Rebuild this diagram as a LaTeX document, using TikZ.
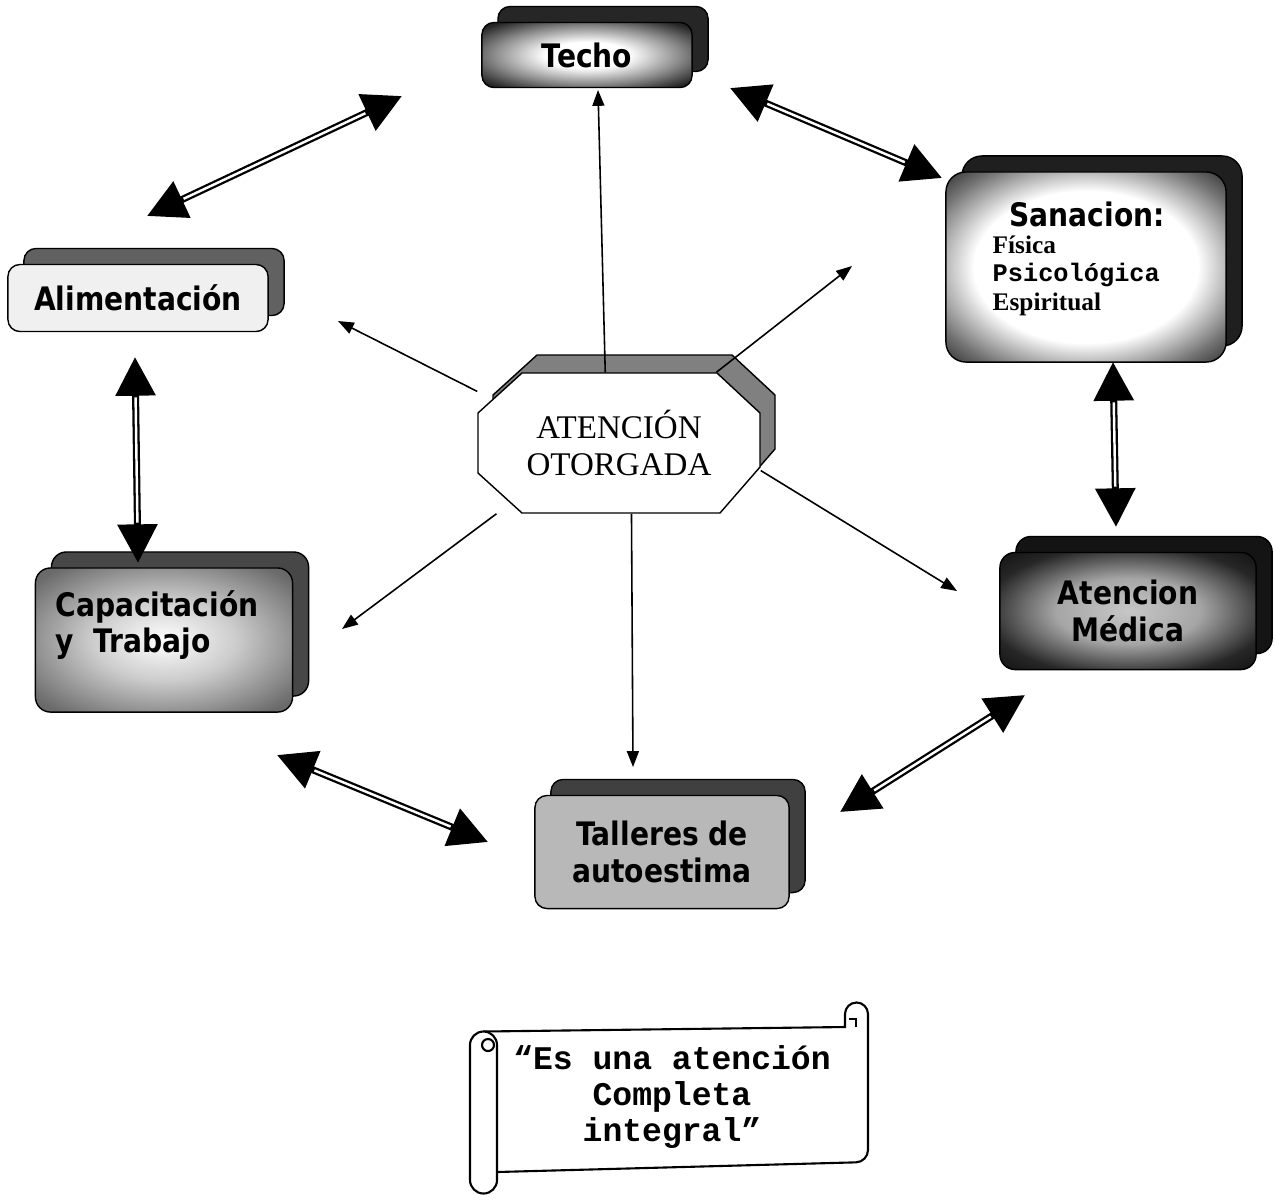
\documentclass[tikz,border=0pt]{standalone}
\usepackage{fontspec}
\setmainfont{Liberation Serif}
\newfontfamily\boxfont{DejaVu Sans}[FakeStretch=0.87]
\newfontfamily\scrollfont{Liberation Mono}
\usetikzlibrary{arrows.meta, shadows}

\pgfdeclareradialshading{glowdark}{\pgfpoint{0bp}{0bp}}{%
  color(0bp)=(white); color(10bp)=(white); color(22bp)=(black!45);
  color(32bp)=(black!85); color(44bp)=(black!97); color(72bp)=(black)}
\pgfdeclareradialshading{glowsoft}{\pgfpoint{0bp}{0bp}}{%
  color(0bp)=(white); color(20bp)=(white); color(30bp)=(black!55);
  color(38bp)=(black!92); color(72bp)=(black)}
\pgfdeclareradialshading{glowmed}{\pgfpoint{0bp}{0bp}}{%
  color(0bp)=(black!22); color(14bp)=(black!35); color(28bp)=(black!85);
  color(40bp)=(black!97); color(72bp)=(black)}
\pgfdeclareradialshading{glowgray}{\pgfpoint{0bp}{0bp}}{%
  color(0bp)=(white); color(14bp)=(black!20); color(32bp)=(black!58);
  color(72bp)=(black!82)}

\tikzset{
  box/.style={rectangle, rounded corners=0.12cm, draw=black, align=center,
    inner sep=0pt, font=\boxfont\bfseries\fontsize{9.2}{10.3}\selectfont},
  boxtext/.style={inner sep=0pt, font=\boxfont\bfseries\fontsize{9.2}{10.3}\selectfont},
  twin/.style={copy shadow={shadow xshift=0.16cm, shadow yshift=0.16cm,
    fill=#1, draw=black}},
  ray/.style={-{Triangle[length=4.5pt,width=3.4pt]}, line width=0.45pt},
  twoway/.style={{Triangle[length=11pt,width=11pt]}-{Triangle[length=11pt,width=11pt]},
    line width=2pt},
  twowaygap/.style={white, line width=0.7pt, shorten >=11.5pt, shorten <=11.5pt},
  scroll/.style={draw=black, line width=0.6pt, fill=white}
}
\newcommand\twoway[2]{\draw[twoway] (#1) -- (#2); \draw[twowaygap] (#1) -- (#2);}

\begin{document}
\begin{tikzpicture}[x=0.01cm, y=-0.01cm]
\useasboundingbox[fill=white] (0,0) rectangle (1276,1199);

% boxes
\node[box, shade, shading=glowdark, twin=black!85, minimum width=2.1cm,
  minimum height=0.65cm] (techo) at (587,55) {Techo};
\node[box, fill=black!6, twin=black!62, minimum width=2.6cm,
  minimum height=0.67cm] (alim) at (138,298) {Alimentación};
\node[box, shade, shading=glowgray, twin=black!72, rounded corners=0.15cm,
  minimum width=2.57cm, minimum height=1.44cm] (capa) at (164,640) {};
\node[boxtext, align=left] (capaT) at (157,625) {Capacitación\\y~~Trabajo};
\node[box, fill=black!28, twin=black!75, minimum width=2.54cm,
  minimum height=1.13cm] (talleres) at (662,852) {Talleres de\\autoestima};
\node[box, shade, shading=glowmed, twin=black!92, rounded corners=0.15cm,
  minimum width=2.56cm, minimum height=1.17cm] (medica) at (1128,611) {Atencion\\Médica};
\node[box, shade, shading=glowsoft, twin=black!88, rounded corners=0.2cm,
  minimum width=2.8cm, minimum height=1.9cm] (sana) at (1086,267) {};
\node[boxtext] (sanaT) at (1087,214) {Sanacion:};
\node[anchor=base west, inner sep=0pt, font=\bfseries\fontsize{7.2}{8}\selectfont]
  (fis) at (992,253) {Física};
\node[anchor=base west, inner sep=0pt, font=\scrollfont\bfseries\fontsize{7.2}{8}\selectfont]
  (psi) at (992,281) {Psicológica};
\node[anchor=base west, inner sep=0pt, font=\bfseries\fontsize{7.2}{8}\selectfont]
  (esp) at (992,310) {Espiritual};

% centre octagon
\draw[fill=black!50] (537,355) -- (732,355) -- (775,395) -- (775,449) -- (735,495)
  -- (537,495) -- (493,455) -- (493,395) -- cycle;
\draw[fill=white] (522,373) -- (717,373) -- (760,413) -- (760,467) -- (720,513)
  -- (522,513) -- (478,473) -- (478,413) -- cycle;
\node[minimum width=2.82cm, minimum height=1.4cm, inner sep=0pt, align=center,
  font=\fontsize{9.4}{10.5}\selectfont] (oto) at (619,443) {ATENCIÓN\\OTORGADA};

% free ends
\coordinate (tT) at (598,90);
\coordinate (tS) at (852,266);
\coordinate (tA) at (338,321);
\coordinate (tC) at (342,629);
\coordinate (tTa) at (633,767);
\coordinate (tM) at (957,591);
\draw[ray] (oto.101) -- (tT);
\draw[ray] (oto.36) -- (tS);
\draw[ray] (oto.160) -- (tA);
\draw[ray] (oto.210) -- (tC);
\draw[ray] (oto.280) -- (tTa);
\draw[ray] (oto.349) -- (tM);

% double arrows
\coordinate (aAl) at (147,216);
\coordinate (aTe) at (402,96);
\coordinate (bTe) at (730,88);
\coordinate (bSa) at (942,178);
\coordinate (cAl) at (135,357);
\coordinate (cCa) at (138,563);
\coordinate (dSa) at (1113,362);
\coordinate (dMe) at (1116,527);
\coordinate (eCa) at (277,755);
\coordinate (eTa) at (488,842);
\coordinate (fTa) at (840,812);
\coordinate (fMe) at (1025,695);
\twoway{aAl}{aTe}
\twoway{bTe}{bSa}
\twoway{cAl}{cCa}
\twoway{dSa}{dMe}
\twoway{eCa}{eTa}
\twoway{fTa}{fMe}

% scroll
\draw[scroll] (483.5,1031.5) -- (845,1027) -- (845,1014)
  arc[start angle=180, end angle=0, radius=0.115cm]
  [rounded corners=0.12cm] -- (868,1162) -- (497,1172);
\draw[line width=0.6pt] (856,1027) -- (856,1019) -- (849,1019);
\draw[scroll] (470,1045) -- (470,1180) arc[start angle=180, end angle=360, radius=0.135cm]
  -- (497,1045) arc[start angle=0, end angle=180, radius=0.135cm];
\draw[line width=0.6pt] (488,1045) circle[radius=0.06cm];
\node[font=\scrollfont\bfseries\fontsize{9.4}{10.3}\selectfont, align=center]
  (motto) at (672,1097) {“Es una atención\\Completa\\integral”};
\end{tikzpicture}
\end{document}
